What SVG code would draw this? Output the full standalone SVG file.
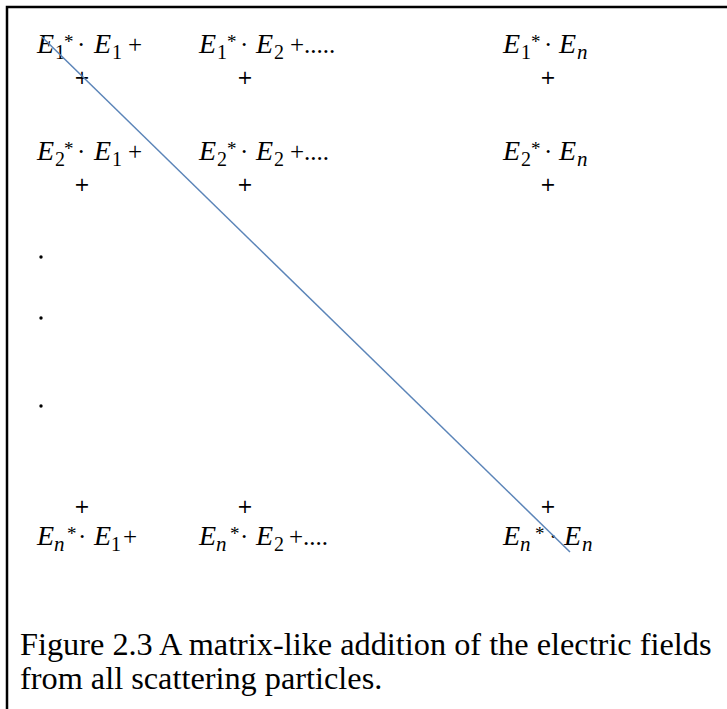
<svg xmlns="http://www.w3.org/2000/svg" width="727" height="709" viewBox="0 0 727 709">
<style>
.m{font-family:"Liberation Serif","DejaVu Serif",serif;fill:#000}
.E{font-style:italic;font-size:28px}
.s{font-size:20px}
.n{font-style:italic;font-size:21px}
.st{font-size:19px}
.op{font-size:25px}
.pl{font-family:"DejaVu Sans",sans-serif;font-size:19px;text-anchor:middle}
.cap{font-family:"Liberation Serif","Times New Roman",serif;font-size:32.3px;fill:#000}
</style>
<rect width="727" height="709" fill="#fff"/>
<path d="M7 709 V7 H727" fill="none" stroke="#000" stroke-width="2.5"/>

<g id="r1c1" class="m">
<text class="E" x="37" y="53">E</text><text class="s" x="55" y="59">1</text><text class="st" x="64" y="48">*</text><text class="op" x="77" y="53">·</text><text class="E" x="94" y="53">E</text><text class="s" x="112" y="59">1</text><text class="op" x="128" y="53">+</text>
<text class="pl" x="82" y="84">+</text>
</g>
<g id="r1c2" class="m">
<text class="E" x="199" y="53">E</text><text class="s" x="217" y="59">1</text><text class="st" x="227" y="48">*</text><text class="op" x="240" y="53">·</text><text class="E" x="256" y="53">E</text><text class="s" x="274" y="59">2</text><text class="op" x="290" y="53">+.....</text>
<text class="pl" x="245" y="84">+</text>
</g>
<g id="r1c3" class="m">
<text class="E" x="503" y="53">E</text><text class="s" x="521" y="59">1</text><text class="st" x="531" y="48">*</text><text class="op" x="544" y="53">·</text><text class="E" x="559" y="53">E</text><text class="n" x="577" y="59">n</text>
<text class="pl" x="548" y="84">+</text>
</g>

<g id="r2c1" class="m">
<text class="E" x="37" y="160">E</text><text class="s" x="55" y="166">2</text><text class="st" x="64" y="155">*</text><text class="op" x="77" y="160">·</text><text class="E" x="94" y="160">E</text><text class="s" x="112" y="166">1</text><text class="op" x="128" y="160">+</text>
<text class="pl" x="82" y="191">+</text>
</g>
<g id="r2c2" class="m">
<text class="E" x="199" y="160">E</text><text class="s" x="217" y="166">2</text><text class="st" x="227" y="155">*</text><text class="op" x="240" y="160">·</text><text class="E" x="256" y="160">E</text><text class="s" x="274" y="166">2</text><text class="op" x="290" y="160">+....</text>
<text class="pl" x="245" y="191">+</text>
</g>
<g id="r2c3" class="m">
<text class="E" x="503" y="160">E</text><text class="s" x="521" y="166">2</text><text class="st" x="531" y="155">*</text><text class="op" x="544" y="160">·</text><text class="E" x="559" y="160">E</text><text class="n" x="577" y="166">n</text>
<text class="pl" x="548" y="191">+</text>
</g>

<g id="dots" fill="#000">
<circle cx="41" cy="257" r="1.7"/>
<circle cx="41" cy="318" r="1.7"/>
<circle cx="41" cy="406" r="1.7"/>
</g>

<g id="r3c1" class="m">
<text class="pl" x="82" y="513">+</text>
<text class="E" x="37" y="545">E</text><text class="n" x="54" y="551">n</text><text class="st" x="67" y="540">*</text><text class="op" x="78" y="545">·</text><text class="E" x="94" y="545">E</text><text class="s" x="111" y="551">1</text><text class="op" x="123" y="545">+</text>
</g>
<g id="r3c2" class="m">
<text class="pl" x="245" y="513">+</text>
<text class="E" x="199" y="545">E</text><text class="n" x="216" y="551">n</text><text class="st" x="230" y="540">*</text><text class="op" x="240" y="545">·</text><text class="E" x="256" y="545">E</text><text class="s" x="274" y="551">2</text><text class="op" x="289" y="545">+....</text>
</g>
<g id="r3c3" class="m">
<text class="pl" x="548" y="513">+</text>
<text class="E" x="503" y="545">E</text><text class="n" x="520" y="551">n</text><text class="st" x="535" y="540">*</text><text class="op" x="549" y="545">·</text><text class="E" x="564" y="545">E</text><text class="n" x="582" y="551">n</text>
</g>

<g id="connectors">
<line x1="42" y1="37" x2="570" y2="552" stroke="#5b84b8" stroke-width="1.5"/>
</g>

<g id="caption" class="cap">
<text x="20" y="655">Figure 2.3 A matrix-like addition of the electric fields</text>
<text x="20" y="689">from all scattering particles.</text>
</g>
</svg>
